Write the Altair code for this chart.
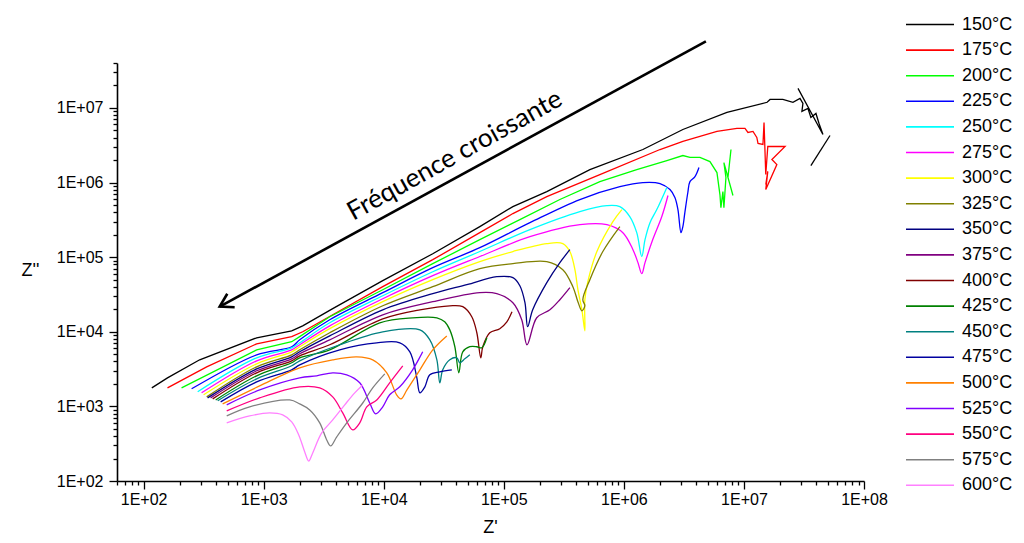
import altair as alt
import pandas as pd

# ---------------- data ----------------
temps = ["150°C", "175°C", "200°C", "225°C", "250°C", "275°C", "300°C", "325°C",
         "350°C", "375°C", "400°C", "425°C", "450°C", "475°C", "500°C", "525°C",
         "550°C", "575°C", "600°C"]
colors = ["#000000", "#FF0000", "#00FF00", "#0000FF", "#00FFFF", "#FF00FF", "#FFFF00",
          "#808000", "#000080", "#800080", "#800000", "#008000", "#008080", "#0000A0",
          "#FF8000", "#8000FF", "#FF0080", "#808080", "#FF80FF"]
# noisy low-frequency tails are drawn with straight segments, the others smoothed
straight_temps = ["150°C", "175°C", "200°C"]

zr_150 = [117, 158, 293, 874, 1711, 2113, 3758, 9810, 2.56e4, 6.31e4, 1.19e5, 2.28e5, 5.21e5,
          1.44e6, 3.1e6, 7.22e6, 1.56e7, 1.65e7, 2.11e7, 2.56e7, 2.93e7, 3.1e7, 3.04e7, 3.41e7,
          3.61e7, 3.98e7, 4.22e7, 4.55e7, 2.82e7]
zi_150 = [1.77e3, 2.41e3, 4.21e3, 8.3e3, 1.03e4, 1.2e4, 2.04e4, 4.84e4, 1.11e5, 2.57e5, 4.76e5,
          7.57e5, 1.49e6, 2.77e6, 5.14e6, 8.71e6, 1.19e7, 1.3e7, 1.3e7, 1.19e7, 1.34e7, 1.15e7,
          8.97e6, 9.85e6, 7.45e6, 8.43e6, 6.19e6, 4.41e6, 1.83e7]
zr_150_tail = [5.21e7, 3.61e7]
zi_150_tail = [4.27e6, 1.69e6]

zr_175 = [158, 335, 874, 1711, 2113, 3758, 9810, 2.56e4, 6.31e4, 1.19e5, 2.28e5, 6.31e5, 2.0e6,
          3.1e6, 5.96e6, 8.74e6, 1.02e7, 1.08e7, 1.19e7, 1.28e7, 1.31e7, 1.44e7, 1.47e7, 1.52e7,
          1.58e7, 2.2e7, 1.71e7, 1.88e7, 1.52e7, 1.58e7, 1.52e7]
zi_175 = [1.77e3, 3.39e3, 6.9e3, 8.6e3, 1.0e4, 1.69e4, 4.02e4, 9.25e4, 2.13e5, 3.84e5, 6.49e5,
          1.28e6, 2.77e6, 3.55e6, 4.84e6, 5.31e6, 5.31e6, 4.69e6, 4.84e6, 4.02e6, 3.34e6, 3.24e6,
          6.38e6, 1.28e6, 3.04e6, 3.04e6, 2.04e6, 1.74e6, 8.05e5, 1.41e6, 9.4e5]

zr_200 = [207, 874, 1711, 1995, 3548, 9810, 2.56e4, 6.31e4, 1.36e5, 2.93e5, 6.31e5, 1.28e6, 2.28e6,
          3.1e6, 3.55e6, 4.3e6, 5.21e6, 5.96e6, 6.31e6, 6.43e6, 6.68e6, 6.81e6, 7.08e6, 6.81e6,
          8.1e6, 7.36e6, 7.8e6]
zi_200 = [1.77e3, 5.73e3, 7.35e3, 8.6e3, 1.59e4, 3.66e4, 8.18e4, 1.72e5, 3.18e5, 5.92e5, 1.03e6,
          1.49e6, 1.97e6, 2.3e6, 2.17e6, 2.17e6, 1.91e6, 1.36e6, 6.9e5, 4.61e5, 7.57e5, 4.61e5,
          1.17e6, 1.85e6, 6.7e5, 1.17e6, 2.77e6]

zr_225 = [251, 874, 1711, 1995, 3548, 9810, 2.56e4, 6.31e4, 1.65e5, 4.3e5, 9.26e5, 1.44e6, 2.0e6,
          2.42e6, 2.66e6, 2.82e6, 2.99e6, 3.1e6, 3.22e6, 3.41e6, 3.55e6, 3.91e6, 4.22e6]
zi_225 = [1.72e3, 4.91e3, 6.3e3, 7.8e3, 1.45e4, 3.34e4, 7.23e4, 1.34e5, 2.9e5, 5.92e5, 8.8e5, 1.0e6,
          9.7e5, 8.05e5, 6.3e5, 4.34e5, 2.13e5, 2.57e5, 3.96e5, 7.35e5, 1.03e6, 1.2e6, 1.59e6]

zr_250 = [282, 874, 1711, 1995, 3548, 9810, 2.56e4, 6.31e4, 1.65e5, 4.3e5, 7.22e5, 9.26e5, 1.12e6,
          1.28e6, 1.41e6, 1.5e6, 1.65e6, 1.88e6, 2.28e6]
zi_250 = [1.57e3, 4.48e3, 6.1e3, 7.12e3, 1.32e4, 3.04e4, 6.38e4, 1.19e5, 2.34e5, 4.08e5, 4.91e5,
          4.76e5, 3.5e5, 2.13e5, 1.02e5, 1.72e5, 2.9e5, 4.34e5, 8.6e5]

zr_275 = [304, 874, 1711, 1995, 3548, 9810, 2.56e4, 6.31e4, 1.65e5, 4.3e5, 7.22e5, 9.81e5, 1.19e6,
          1.31e6, 1.41e6, 1.5e6, 1.74e6, 2.07e6, 2.33e6]
zi_275 = [1.52e3, 4.08e3, 5.73e3, 6.7e3, 1.2e4, 2.77e4, 5.65e4, 1.02e5, 1.88e5, 2.73e5, 2.73e5,
          2.13e5, 1.26e5, 8.44e4, 6.01e4, 8.44e4, 1.72e5, 3.5e5, 6.7e5]

zr_300 = [316, 874, 1711, 1995, 3548, 9810, 2.56e4, 6.31e4, 1.19e5, 2.28e5, 3.1e5, 3.55e5, 3.91e5,
          4.14e5, 4.47e5, 4.73e5, 4.73e5, 5.01e5, 5.96e5, 8.1e5, 9.62e5]
zi_300 = [1.43e3, 3.72e3, 5.39e3, 6.3e3, 1.1e4, 2.53e4, 4.99e4, 8.7e4, 1.19e5, 1.52e5, 1.52e5,
          1.19e5, 6.79e4, 3.66e4, 1.97e4, 1.03e4, 2.69e4, 4.69e4, 1.19e5, 3.0e5, 4.34e5]

zr_325 = [335, 874, 1711, 1995, 3548, 9810, 2.56e4, 6.31e4, 1.19e5, 2.28e5, 3.1e5, 3.76e5, 4.14e5,
          4.47e5, 4.73e5, 4.55e5, 5.21e5, 6.68e5, 9.26e5]
zi_325 = [1.34e3, 3.39e3, 4.91e3, 5.73e3, 9.7e3, 2.23e4, 4.02e4, 7.01e4, 8.18e4, 8.7e4, 6.79e4,
          4.02e4, 2.53e4, 1.91e4, 2.23e4, 2.69e4, 4.99e4, 1.19e5, 2.57e5]

zr_350 = [341, 874, 1711, 1995, 3548, 9810, 2.56e4, 4.92e4, 8.74e4, 1.19e5, 1.36e5, 1.5e5, 1.58e5,
          1.74e5, 2.28e5, 2.93e5, 3.55e5]
zi_350 = [1.3e3, 3.18e3, 4.61e3, 5.39e3, 8.8e3, 1.97e4, 3.24e4, 4.28e4, 5.47e4, 5.31e4, 4.14e4,
          2.45e4, 1.17e4, 1.97e4, 4.55e4, 8.44e4, 1.26e5]

zr_375 = [361, 874, 1711, 1995, 3548, 9810, 2.56e4, 6.31e4, 8.74e4, 1.19e5, 1.41e5, 1.56e5, 1.88e5,
          2.42e5, 2.93e5, 3.55e5]
zi_375 = [1.3e3, 3.0e3, 4.34e3, 5.07e3, 7.8e3, 1.69e4, 2.53e4, 3.34e4, 3.24e4, 2.45e4, 1.45e4,
          6.7e3, 1.54e4, 1.97e4, 2.69e4, 3.9e4]

zr_400 = [376, 874, 1711, 1995, 3548, 9810, 2.0e4, 3.55e4, 4.55e4, 5.41e4, 5.96e4, 6.43e4, 6.68e4,
          7.64e4, 9.26e4, 1.06e5, 1.17e5]
zi_400 = [1.26e3, 2.82e3, 4.08e3, 4.76e3, 6.7e3, 1.49e4, 1.97e4, 2.23e4, 2.17e4, 1.59e4, 9.7e3,
          4.48e3, 6.3e3, 9.7e3, 1.1e4, 1.36e4, 1.85e4]

zr_425 = [398, 874, 1711, 1995, 3548, 9261, 1.74e4, 2.77e4, 3.22e4, 3.55e4, 3.91e4, 4.22e4, 4.55e4,
          5.21e4, 5.96e4, 6.56e4, 7.22e4]
zi_425 = [1.22e3, 2.57e3, 3.84e3, 4.48e3, 5.73e3, 1.32e4, 1.54e4, 1.54e4, 1.36e4, 1.06e4, 6.3e3,
          2.82e3, 5.39e3, 6.3e3, 6.3e3, 6.1e3, 8.3e3]

zr_450 = [414, 874, 1711, 1995, 4299, 9810, 2.0e4, 2.42e4, 2.77e4, 2.93e4, 3.1e4, 3.55e4, 4.06e4,
          4.3e4, 4.73e4, 5.21e4]
zi_450 = [1.19e3, 2.34e3, 3.5e3, 4.08e3, 6.7e3, 1.0e4, 1.06e4, 7.8e3, 4.21e3, 2.07e3, 3.09e3,
          4.21e3, 4.48e3, 3.84e3, 4.34e3, 4.91e3]

zr_475 = [438, 874, 1711, 1995, 4299, 8744, 1.36e4, 1.65e4, 1.88e4, 2.0e4, 2.2e4, 2.42e4, 2.93e4,
          3.69e4]
zi_475 = [1.15e3, 2.13e3, 3.09e3, 3.6e3, 5.73e3, 7.12e3, 7.12e3, 5.39e3, 2.49e3, 1.52e3, 1.83e3,
          2.65e3, 2.9e3, 3.09e3]

zr_500 = [455, 926, 1995, 3758, 5957, 8090, 1.06e4, 1.28e4, 1.39e4, 1.56e4, 2.0e4, 2.56e4, 3.35e4]
zi_500 = [1.08e3, 1.88e3, 3.29e3, 4.21e3, 4.61e3, 4.21e3, 2.82e3, 1.43e3, 1.26e3, 1.66e3, 3.09e3,
          5.73e3, 8.8e3]

zr_525 = [492, 926, 1995, 2765, 3758, 4918, 6310, 7638, 8570, 9810, 1.12e4, 1.36e4, 1.74e4, 2.11e4]
zi_525 = [1.05e3, 1.66e3, 2.41e3, 2.57e3, 2.82e3, 2.65e3, 2.07e3, 1.11e3, 7.93e2, 9.85e2, 1.43e3,
          1.83e3, 3.09e3, 5.39e3]

zr_550 = [492, 926, 1995, 2929, 3758, 4553, 5519, 6310, 7217, 8744, 1.12e4, 1.44e4]
zi_550 = [8.7e2, 1.3e3, 1.83e3, 1.77e3, 1.34e3, 8.18e2, 4.84e2, 6.01e2, 9.85e2, 1.22e3, 2.07e3,
          3.5e3]

zr_575 = [492, 764, 1648, 1995, 2417, 2929, 3350, 3614, 4058, 4918, 6683, 8090, 1.02e4]
zi_575 = [7.45e2, 9.85e2, 1.22e3, 1.08e3, 8.97e2, 6.01e2, 3.55e2, 2.95e2, 3.9e2, 6.01e2, 1.11e3,
          1.77e3, 2.73e3]

zr_600 = [492, 764, 1122, 1440, 1711, 1958, 2198, 2371, 2560, 3041, 3758, 4732, 5731, 6683]
zi_600 = [6.01e2, 7.45e2, 8.18e2, 7.69e2, 6.19e2, 4.14e2, 2.45e2, 1.85e2, 2.38e2, 4.41e2, 6.59e2,
          1.05e3, 1.52e3, 1.94e3]

# annotation (arrow from low to high frequency, and its caption)
arrow_zr = [4.82e6, 430]
arrow_zi = [7.8e7, 2.17e4]
caption = "Fréquence croissante"
caption_zr = 3.9e4
caption_zi = 2.3e6

# ---------------- table ----------------
series = {
    "150°C": [(zr_150, zi_150), (zr_150_tail, zi_150_tail)],
    "175°C": [(zr_175, zi_175)], "200°C": [(zr_200, zi_200)], "225°C": [(zr_225, zi_225)],
    "250°C": [(zr_250, zi_250)], "275°C": [(zr_275, zi_275)], "300°C": [(zr_300, zi_300)],
    "325°C": [(zr_325, zi_325)], "350°C": [(zr_350, zi_350)], "375°C": [(zr_375, zi_375)],
    "400°C": [(zr_400, zi_400)], "425°C": [(zr_425, zi_425)], "450°C": [(zr_450, zi_450)],
    "475°C": [(zr_475, zi_475)], "500°C": [(zr_500, zi_500)], "525°C": [(zr_525, zi_525)],
    "550°C": [(zr_550, zi_550)], "575°C": [(zr_575, zi_575)], "600°C": [(zr_600, zi_600)],
}
rows = []
for t in temps:
    for s, (xs, ys) in enumerate(series[t]):
        for i, (x, y) in enumerate(zip(xs, ys)):
            rows.append({"temp": t, "seg": f"{t}-{s}", "i": i, "zr": x, "zi": y,
                         "straight": t in straight_temps})
df = pd.DataFrame(rows)
df_straight = df[df["straight"]].drop(columns="straight")
df_smooth = df[~df["straight"]].drop(columns="straight")

arrow_df = pd.DataFrame([{"x": arrow_zr[0], "y": arrow_zi[0], "x2": arrow_zr[1], "y2": arrow_zi[1]}])
head_df = pd.DataFrame([{"x": arrow_zr[1], "y": arrow_zi[1]}])
text_df = pd.DataFrame([{"x": caption_zr, "y": caption_zi, "t": caption}])

# ---------------- axes ----------------
X_DOM = [60, 1e8]
Y_DOM = [100, 4e7]
x_ticks = [k * 10 ** n for n in range(1, 9) for k in range(1, 10) if X_DOM[0] <= k * 10 ** n <= X_DOM[1]]
y_ticks = [k * 10 ** n for n in range(2, 8) for k in range(1, 10) if Y_DOM[0] <= k * 10 ** n <= Y_DOM[1]]
is_major = "abs(log(datum.value)/LN10 - round(log(datum.value)/LN10)) < 1e-6"
label_expr = f"{is_major} ? '1E+0' + round(log(datum.value)/LN10) : ''"
FONT = "Liberation Sans"

common_axis = dict(
    labelExpr=label_expr, labelFont=FONT, labelFontSize=16, labelColor="black",
    labelOverlap=False, labelFlush=False, grid=False,
    domainColor="black", domainWidth=1.6, tickColor="black", tickWidth=1.3,
    tickSize={"condition": {"test": is_major, "value": 8}, "value": 4},
    titleFont=FONT, titleFontSize=18, titleFontWeight="normal", titleColor="black",
)

x_axis = alt.Axis(**common_axis, values=x_ticks, title="Z'", labelPadding=2,
                  titleX=373, titleY=46, titleAlign="center", titleBaseline="middle")
y_axis = alt.Axis(**common_axis, values=y_ticks, title="Z''", labelPadding=6,
                  titleAngle=0, titleX=-87, titleY=207, titleAlign="center", titleBaseline="middle")

x_scale = alt.Scale(type="log", domain=X_DOM, nice=False)
y_scale = alt.Scale(type="log", domain=Y_DOM, nice=False)
color_scale = alt.Scale(domain=temps, range=colors)

legend = alt.Legend(title=None, orient="none", legendX=804, legendY=-47.5,
                    symbolType="M-4.8,0H4.8", symbolSize=100,
                    symbolStrokeWidth=1.6, labelFont=FONT, labelFontSize=18,
                    labelColor="black", labelOffset=23, rowPadding=7.6, padding=0)

lines_straight = alt.Chart(df_straight).mark_line(strokeWidth=1.3, clip=False).encode(
    x=alt.X("zr:Q", scale=x_scale, axis=x_axis),
    y=alt.Y("zi:Q", scale=y_scale, axis=y_axis),
    color=alt.Color("temp:N", scale=color_scale, legend=legend),
    detail="seg:N",
    order="i:Q",
)

lines_smooth = alt.Chart(df_smooth).mark_line(strokeWidth=1.3, clip=False,
                                              interpolate="catmull-rom").encode(
    x=alt.X("zr:Q", scale=x_scale),
    y=alt.Y("zi:Q", scale=y_scale),
    color=alt.Color("temp:N", scale=color_scale, legend=legend),
    detail="seg:N",
    order="i:Q",
)

shaft = alt.Chart(arrow_df).mark_rule(color="black", strokeWidth=2.6).encode(
    x="x:Q", y="y:Q", x2="x2:Q", y2="y2:Q")

head = alt.Chart(head_df).mark_point(shape="M-1,-0.6L0,0L-1,0.6", size=660, filled=False,
                                     color="black", strokeWidth=2.6, opacity=1,
                                     angle=151.4).encode(x="x:Q", y="y:Q")

text = alt.Chart(text_df).mark_text(angle=331, font="Lato", fontSize=26, align="center",
                                    baseline="middle", color="black").encode(
    x="x:Q", y="y:Q", text="t:N")

chart = alt.layer(lines_straight, lines_smooth, shaft, head, text).properties(
    width=747, height=418,
    padding={"left": 109, "top": 55, "right": 151, "bottom": 54},
    autosize=alt.AutoSizeParams(type="none"),
).configure_view(stroke=None)

chart.save("out.html", embed_options={"renderer": "svg", "actions": False})
